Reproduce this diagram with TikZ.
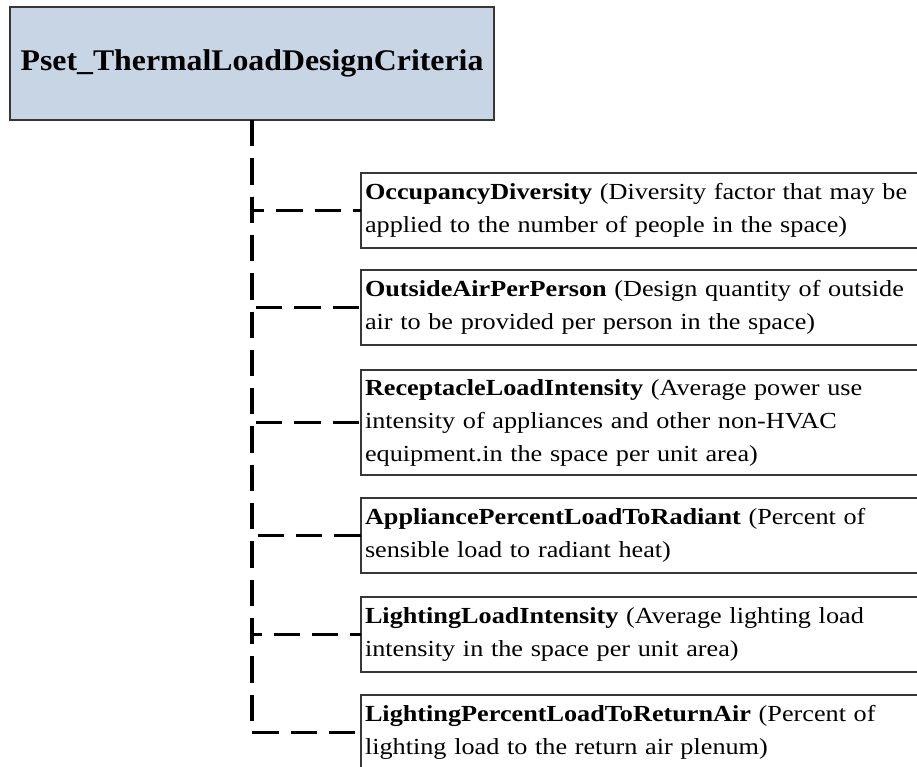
\documentclass[tikz,border=0pt]{standalone}
\usepackage{fontspec}
\setmainfont{Liberation Serif}
\newfontfamily\titlefont[FakeStretch=1.06]{Liberation Serif}
\newfontfamily\propfont[FakeStretch=1.14]{Liberation Serif}
\definecolor{psetfill}{RGB}{200,213,229}
\definecolor{edge}{RGB}{55,55,55}
\begin{document}
\begin{tikzpicture}[x=1pt,y=-1pt,
  psetbox/.style={draw=edge, line width=1.8pt, fill=psetfill, outer sep=0pt,
    minimum width=484pt, minimum height=113pt, anchor=north west,
    font=\titlefont\fontsize{30}{36}\selectfont\bfseries},
  propbox/.style={draw=edge, line width=1.6pt, fill=white, outer sep=0pt,
    anchor=north west, align=left, text width=600pt, inner xsep=4pt,
    minimum height=75pt, font=\propfont\fontsize{23}{33}\selectfont},
  conn/.style={draw=black, line width=3.2pt, dash pattern=on 26.3pt off 12pt}]
\useasboundingbox (0,0) rectangle (917,766);

% parent property set
\node[psetbox] (pset) at (10,7) {Pset\_ThermalLoadDesignCriteria};

% properties
\node[propbox] (b1) at (361,173) {\textbf{OccupancyDiversity} (Diversity factor that may be\\applied to the number of people in the space)};
\node[propbox] (b2) at (361,270) {\textbf{OutsideAirPerPerson} (Design quantity of outside\\air to be provided per person in the space)};
\node[propbox, minimum height=105pt] (b3) at (361,370) {\textbf{ReceptacleLoadIntensity} (Average power use\\intensity of appliances and other non-HVAC\\equipment.in the space per unit area)};
\node[propbox] (b4) at (361,498) {\textbf{AppliancePercentLoadToRadiant} (Percent of\\sensible load to radiant heat)};
\node[propbox] (b5) at (361,597) {\textbf{LightingLoadIntensity} (Average lighting load\\intensity in the space per unit area)};
\node[propbox] (b6) at (361,695) {\textbf{LightingPercentLoadToReturnAir} (Percent of\\lighting load to the return air plenum)};

% elbow connectors sharing one trunk
\foreach \b in {b1,b2,b3,b4,b5,b6}
  \draw[conn] (pset.south) |- (\b.west);
\end{tikzpicture}
\end{document}
